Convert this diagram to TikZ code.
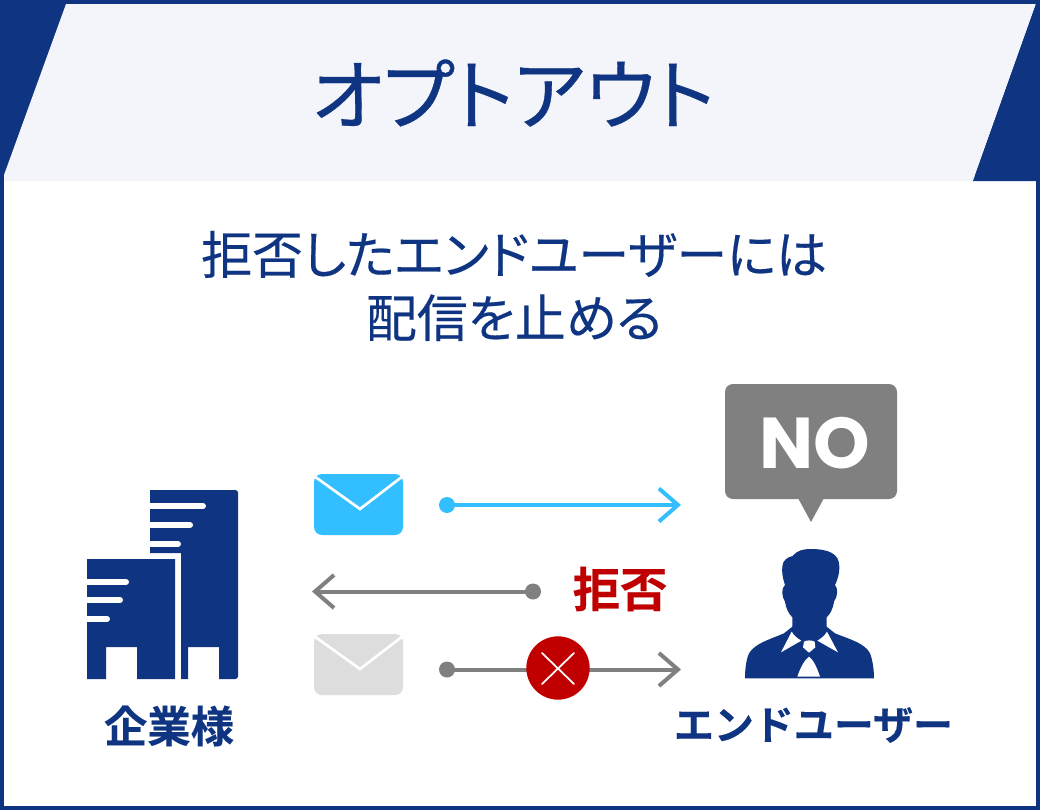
\documentclass[tikz,border=0pt]{standalone}
\usepackage{fontspec}
\setmainfont{Noto Sans CJK JP}
\newfontfamily\jpbold[FakeBold=0.25]{Noto Sans CJK JP Bold}
\newfontfamily\jptitle[RawFeature={+palt},FakeBold=0.45]{Noto Sans CJK JP}
\newfontfamily\jplead[RawFeature={+palt},FakeBold=0.35]{Noto Sans CJK JP}
\newfontfamily\nofont{Poppins}[BoldFont={Poppins Bold}]
\usetikzlibrary{arrows.meta}
\definecolor{navy}{HTML}{0E3482}
\definecolor{panel}{HTML}{F3F5FA}
\definecolor{sky}{HTML}{33BFFF}
\definecolor{midgray}{HTML}{808080}
\definecolor{palegray}{HTML}{DDDDDD}
\definecolor{refuse}{HTML}{C00000}
\tikzset{
  txt/.style={inner sep=0pt,outer sep=0pt,align=center,text=navy},
  flow/.style={line width=3pt,-{Straight Barb[length=14.25pt,width=24.75pt,line width=3pt]}},
  dotmark/.style={circle,inner sep=0pt,minimum size=12pt},
  stripe/.style={white,line width=4.5pt},
  envflap/.style={white,line width=2pt,line join=miter}
}
\begin{document}
\begin{tikzpicture}[x=0.75pt,y=-0.75pt]
\useasboundingbox (0,0) rectangle (1040,810);
\fill[navy] (0,0) rectangle (1040,810);
\fill[white] (4,175) rectangle (1036,806);
\fill[panel] (66,4) -- (1036,4) -- (973,181) -- (4,181) -- (4,175) -- cycle;
\fill[navy] (1036,4) -- (1036,181) -- (973,181) -- cycle;
% title and lead
\node[txt,font=\fontsize{58pt}{58pt}\jptitle] (title) at (513,93) {オプトアウト};
\node[txt,font=\fontsize{38.2pt}{47.5pt}\jplead] (lead) at (514,286) {拒否したエンドユーザーには\\配信を止める};
% buildings
\fill[navy] (150,490) [rounded corners=2pt] -- (238,490) -- (238,679) [sharp corners] -- (219,679) -- (219,647) -- (188,647) -- (188,679) -- (181,679) -- (181,553) -- (150,553) -- cycle;
\fill[navy] (87,559) -- (175,559) -- (175,679) -- (137,679) -- (137,647) -- (106,647) -- (106,679) -- (87,679) -- cycle;
\foreach \a/\b/\c in {150/506/203,150/525/190,150/544/178,87/582/126,87/600/120,87/619/107}
  \draw[stripe] (\a,\b) -- (\c,\b);
\foreach \b/\c in {506/203,525/190,544/178,582/126,600/120,619/107}
  \fill[white] (\c,\b) circle[radius=3];
\node[txt,font=\fontsize{32.5pt}{33pt}\jpbold] (company) at (169,726) {企業様};
% envelopes
\fill[sky,rounded corners=6pt] (314,474) -- (403,474) -- (403,535) -- (314,535) -- cycle;
\draw[envflap] (314,476) -- (360,509) -- (403,476);
\fill[palegray,rounded corners=6pt] (314,634) -- (403,634) -- (403,695) -- (314,695) -- cycle;
\draw[envflap] (314,636) -- (360,669) -- (403,636);
% connectors
\node[dotmark,fill=sky] (d1) at (447,505) {};
\coordinate (t1) at (681,505);
\draw[flow,sky] (d1.center) -- (t1);
\node[dotmark,fill=midgray] (d2) at (533,591.5) {};
\coordinate (t2) at (312,591.5);
\draw[flow,midgray] (d2.center) -- (t2);
\node[dotmark,fill=midgray] (d3) at (447,669.5) {};
\coordinate (t3) at (681,669.5);
\draw[flow,midgray] (d3.center) -- (t3);
\node[circle,fill=refuse,inner sep=0pt,minimum size=47.5pt] (cross) at (558,668) {};
\draw[white,line width=1.3pt,line cap=round] (542,653) -- (574,684) (574,653) -- (542,684);
\node[txt,text=refuse,font=\fontsize{35.5pt}{35pt}\jpbold] (refusal) at (620,589) {拒否};
% bubble
\fill[midgray,rounded corners=6pt] (725,384) -- (897,384) -- (897,499) -- (725,499) -- cycle;
\fill[midgray] (798,498) -- (824,498) -- (811,522) -- cycle;
\node[txt,text=white,font=\fontsize{54pt}{54pt}\nofont\bfseries] (no) at (815,443) {NO};
% person
\begin{scope}[shift={(700,370)},x=0.25pt,y=-0.25pt]
\fill[navy] (330,537) .. controls (385,537) and (418,550) .. (418,590)
  .. controls (418,615) and (412,630) .. (405,645)
  .. controls (415,655) and (413,680) .. (402,695)
  .. controls (398,720) and (390,732) .. (380,742) -- (380,770)
  -- (405,790) .. controls (450,808) and (495,820) .. (510,850)
  .. controls (518,870) and (522,900) .. (522,925) -- (135,925)
  .. controls (135,900) and (138,870) .. (147,850)
  .. controls (165,820) and (210,808) .. (252,790) -- (277,770) -- (277,742)
  .. controls (265,730) and (258,715) .. (255,695)
  .. controls (245,680) and (243,655) .. (255,645)
  .. controls (248,625) and (245,605) .. (247,590)
  .. controls (248,570) and (262,562) .. (278,558)
  .. controls (290,542) and (310,537) .. (330,537) -- cycle;
\fill[white] (275,785) .. controls (282,797) and (292,805) .. (304,812) -- (243,847) -- cycle;
\fill[white] (381,785) .. controls (374,797) and (364,805) .. (352,812) -- (414,847) -- cycle;
\fill[white] (312,815) .. controls (320,810) and (335,810) .. (344,815) -- (346,832) -- (327,848) -- (309,832) -- cycle;
\fill[white] (327,860) .. controls (340,870) and (350,890) .. (360,920) -- (292,920) .. controls (302,890) and (314,870) .. (327,860) -- cycle;
\end{scope}
\node[txt,font=\fontsize{30pt}{30pt}\jpbold] (user) at (813.5,725) {エンドユーザー};
\end{tikzpicture}
\end{document}
